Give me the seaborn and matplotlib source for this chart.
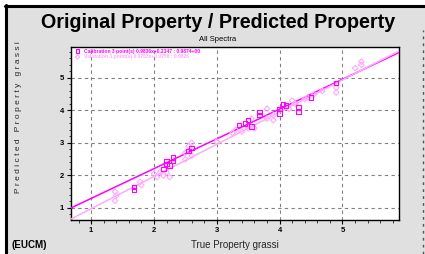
import numpy as np
import pandas as pd
import seaborn as sns
import matplotlib.pyplot as plt
from matplotlib.patches import Rectangle
from matplotlib.ticker import MultipleLocator

# calibration points (squares)
cal_x = [1.68, 1.68, 2.15, 2.2, 2.2, 2.25, 2.3, 2.3, 2.55, 2.6, 3.35, 3.45,
         3.5, 3.55, 3.68, 3.68, 4.0, 4.0, 4.05, 4.1, 4.3, 4.3, 4.5, 4.9]
cal_y = [1.55, 1.65, 2.2, 2.35, 2.45, 2.3, 2.55, 2.45, 2.75, 2.85, 3.55, 3.6,
         3.7, 3.5, 3.85, 3.95, 3.9, 4.05, 4.2, 4.15, 3.95, 4.1, 4.4, 4.85]

# validation points (light)
val_x = [1.38, 1.38, 1.4, 1.78, 1.8, 2.0, 2.05, 2.1, 2.15, 2.2, 2.25, 2.5, 2.5,
         2.55, 2.6, 2.6, 3.0, 3.25, 3.3, 3.4, 3.5, 3.55, 3.6, 3.8, 3.8, 3.9,
         3.9, 4.15, 4.2, 4.25, 4.4, 4.45, 4.55, 4.68, 4.9, 4.9, 5.2, 5.3, 5.3]
val_y = [1.5, 1.22, 1.38, 1.8, 1.7, 2.05, 1.95, 2.1, 2.0, 2.1, 1.95, 2.5, 2.7,
         2.9, 2.6, 3.0, 3.05, 3.3, 3.4, 3.35, 3.45, 3.75, 3.45, 3.75, 4.05, 3.7,
         3.85, 4.05, 4.3, 4.2, 4.35, 4.4, 4.5, 4.6, 4.55, 4.7, 5.3, 5.5, 5.4]

# regression lines: slope, intercept
fit_names = ["cal", "val"]
fit_slope = [0.916, 0.99]
fit_icpt = [0.377, -0.013]

legend_labels = ["Calibration 3 point(s) 0.9836x+0.2347 : 0.9874+00",
                 "Validation 3 point(s) 0.9753x+0.0758 : 0.9826"]
x_ticks = [1, 2, 3, 4, 5]
y_ticks = [1, 2, 3, 4, 5]

col_cal = "#ff00ff"
col_val = "#ffa8ff"

sns.set_theme(style="white")
plt.rcParams['font.family'] = ['Liberation Sans', 'DejaVu Sans']

fig = plt.figure(figsize=(4.25, 2.54), dpi=100, facecolor="white")
# window frame
fig.patches.append(Rectangle((6/425, 0), 1, 1 - 6/254, transform=fig.transFigure,
                             facecolor="#e0e0e0", edgecolor="none", zorder=-5))
fig.add_artist(plt.Line2D([5.5/425, 5.5/425], [0, 1 - 5/254], color="black", lw=2.2))
fig.add_artist(plt.Line2D([5/425, 1], [1 - 5.5/254, 1 - 5.5/254], color="black", lw=2.2))
fig.add_artist(plt.Line2D([423/425, 423/425], [0, 1 - 30/254], color="#555555", lw=1,
                          ls=(0, (2, 3))))

ax = fig.add_axes([71/425, 1 - 220/254, 328/425, 173/254])
ax.set_facecolor("white")

xmin, xmax = 0.68, 5.9
ymin, ymax = 0.63, 5.95

lines = []
for n, m, b in zip(fit_names, fit_slope, fit_icpt):
    xs = np.array([xmin, xmax])
    lines.append(pd.DataFrame({"x": xs, "y": m * xs + b, "fit": n}))
lines = pd.concat(lines)
sns.lineplot(data=lines, x="x", y="y", hue="fit", palette=[col_cal, col_val],
             lw=1.1, legend=False, ax=ax, zorder=3)

sns.scatterplot(x=val_x, y=val_y, marker="D", s=8, color=col_val, linewidth=0.8,
                ax=ax, zorder=4, label=legend_labels[1])
ax.collections[-1].set_facecolor("none")
ax.collections[-1].set_edgecolor(col_val)
sns.scatterplot(x=cal_x, y=cal_y, marker="s", s=10, color=col_cal, linewidth=0.8,
                ax=ax, zorder=5, label=legend_labels[0])
ax.collections[-1].set_facecolor("none")
ax.collections[-1].set_edgecolor(col_cal)

h, l = ax.get_legend_handles_labels()
leg = ax.legend(h[::-1], l[::-1], loc="upper left", frameon=False, fontsize=3.6,
                handletextpad=0.2, borderaxespad=0.1, labelspacing=0.15,
                markerscale=0.8, borderpad=0.2)
for t, c in zip(leg.get_texts(), [col_cal, col_val]):
    t.set_color(c)
    t.set_fontweight("bold")

ax.set_xlim(xmin, xmax)
ax.set_ylim(ymin, ymax)
ax.set_xticks(x_ticks)
ax.set_yticks(y_ticks)
ax.xaxis.set_minor_locator(MultipleLocator(0.2))
ax.yaxis.set_minor_locator(MultipleLocator(0.2))
ax.tick_params(which="major", direction="out", length=3, width=0.8, labelsize=5.5,
               pad=2, bottom=True, left=True, colors="black")
ax.tick_params(which="minor", direction="out", length=1.8, width=0.6, bottom=True, left=True)
for lab in ax.get_xticklabels() + ax.get_yticklabels():
    lab.set_fontweight("bold")
ax.grid(True, which="major", color="#808080", ls=(0, (3, 3)), lw=0.8)
for s in ax.spines.values():
    s.set_color("black")
    s.set_linewidth(1.0)

ax.set_xlabel("True Property grassi", fontsize=7, labelpad=4)
ax.set_ylabel("P r e d i c t e d   P r o p e r t y   g r a s s i", fontsize=6)
ax.yaxis.set_label_coords(-0.15, 0.595)

fig.text(218/425, 1 - 22/254, "Original Property / Predicted Property", ha="center",
         va="center", fontsize=14.2, fontweight="bold", color="black")
fig.text(218/425, 1 - 40/254, "All Spectra", ha="center", va="center", fontsize=5.5,
         color="black")
fig.text(29/425, 1 - 245/254, "(EUCM)", ha="center", va="center", fontsize=7,
         fontweight="bold", color="black")

fig.savefig("out.png", dpi=100, facecolor=fig.get_facecolor())
